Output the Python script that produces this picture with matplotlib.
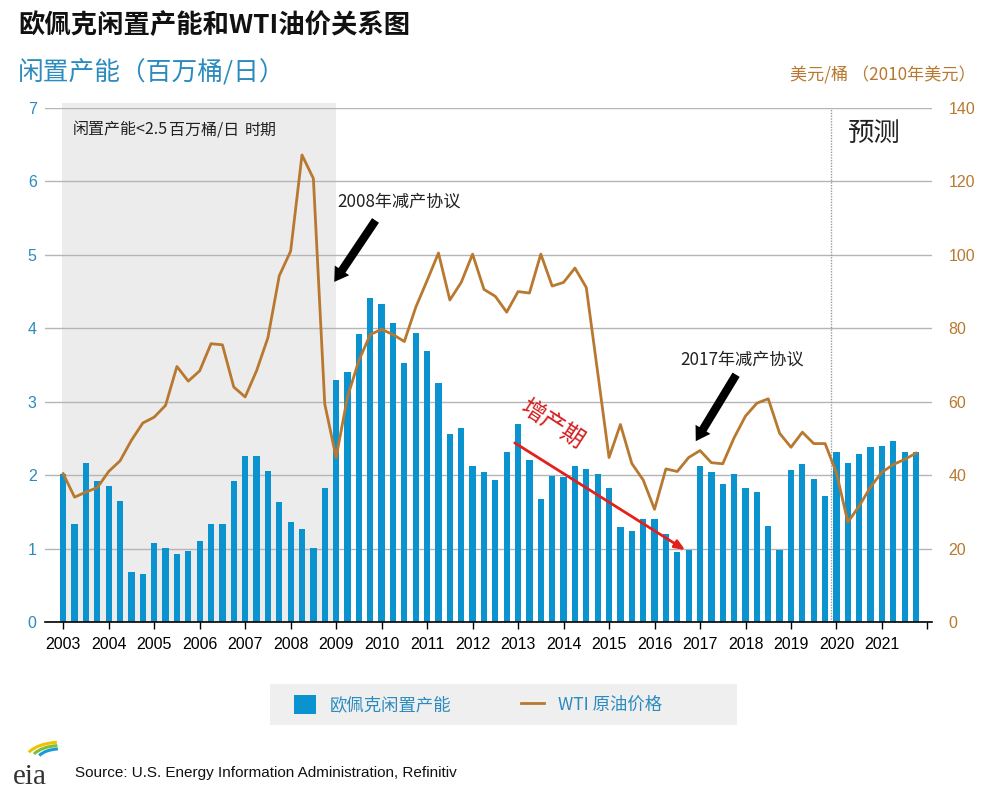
import matplotlib
matplotlib.use("Agg")
import matplotlib.pyplot as plt
from matplotlib.patches import Rectangle, Arc

plt.rcParams['font.family'] = ['Noto Sans CJK SC', 'DejaVu Sans']

# quarterly data, 2003 Q1 .. 2021 Q4
years = [str(y) for y in range(2003, 2022)]

spare = [2.02, 1.33, 2.17, 1.92, 1.85, 1.65, 0.68, 0.65, 1.07, 1.01, 0.93, 0.97,
         1.11, 1.33, 1.33, 1.92, 2.26, 2.26, 2.06, 1.63, 1.36, 1.26, 1.01, 1.83,
         3.30, 3.40, 3.92, 4.41, 4.33, 4.07, 3.53, 3.94, 3.69, 3.25, 2.56, 2.64,
         2.12, 2.04, 1.94, 2.31, 2.69, 2.21, 1.67, 1.99, 1.97, 2.13, 2.08, 2.02,
         1.83, 1.29, 1.24, 1.40, 1.40, 1.20, 0.95, 0.98, 2.13, 2.04, 1.88, 2.02,
         1.83, 1.77, 1.31, 0.98, 2.07, 2.15, 1.95, 1.72, 2.31, 2.17, 2.29, 2.38,
         2.40, 2.47, 2.31, 2.31]

wti = [40.4, 34.0, 35.4, 36.6, 41.0, 43.9, 49.5, 54.2, 55.8, 59.0, 69.6, 65.6,
       68.4, 75.8, 75.5, 64.0, 61.3, 68.4, 77.4, 94.3, 101.0, 127.2, 120.8, 59.4,
       44.8, 61.3, 71.2, 78.3, 79.7, 78.3, 76.4, 85.7, 93.0, 100.5, 87.7, 92.5,
       100.2, 90.6, 88.7, 84.4, 90.0, 89.6, 100.2, 91.5, 92.5, 96.4, 91.1, 68.0,
       44.8, 53.8, 43.2, 38.7, 30.7, 41.7, 41.0, 44.8, 46.7, 43.4, 43.1, 50.2,
       56.1, 59.6, 60.8, 51.4, 47.6, 51.7, 48.6, 48.6, 40.6, 27.2, 31.6, 36.8,
       40.8, 42.9, 44.3, 46.0]

bar_color = '#0b93d0'
line_color = '#b8782f'
blue_text = '#2a8bbf'

x = list(range(len(spare)))

fig = plt.figure(figsize=(10, 7.94), dpi=100)
ax = fig.add_axes([0.045, 0.2166, 0.887, 0.6474])

# low spare capacity period shading
ax.axvspan(-0.1, 24, ymin=0, ymax=1.01, color='#ececec', zorder=0, lw=0, clip_on=False)

bars = ax.bar(x, spare, width=0.55, color=bar_color, zorder=2, label='欧佩克闲置产能')

ax.set_xlim(-1.6, 76.4)
ax.set_ylim(0, 7)
ax.set_yticks(range(0, 8))
ax.grid(axis='y', color='#b5b5b5', lw=1, zorder=1)
ax.set_axisbelow(True)

ax.set_xticks(range(0, 77, 4))
ax.set_xticklabels(years + [''], fontsize=11.5, family='Liberation Sans')
ax.tick_params(axis='x', direction='out', length=5, width=1, color='black', pad=6)
ax.tick_params(axis='y', length=0, labelsize=11.5, labelcolor=blue_text, pad=6)
for lab in ax.get_yticklabels():
    lab.set_family('Liberation Sans')

for s in ['top', 'left', 'right']:
    ax.spines[s].set_visible(False)
ax.spines['bottom'].set_color('black')
ax.spines['bottom'].set_linewidth(1.2)

ax2 = ax.twinx()
line, = ax2.plot(x, wti, color=line_color, lw=2.0, zorder=3, label='WTI 原油价格')
ax2.set_ylim(0, 140)
ax2.set_yticks(range(0, 141, 20))
ax2.tick_params(axis='y', length=0, labelsize=11.5, labelcolor=line_color, pad=12)
for lab in ax2.get_yticklabels():
    lab.set_family('Liberation Sans')
for s in ['top', 'left', 'right', 'bottom']:
    ax2.spines[s].set_visible(False)

# forecast divider
ax.axvline(67.5, color='#9a9a9a', lw=1, ls=(0, (1, 1)), zorder=1)
ax.text(69.0, 6.65, '预测', fontsize=19, va='center', ha='left', color='#222222')

# annotations
t1 = ax.text(0.8, 6.7, '闲置产能<2.5', fontsize=11.5, va='center', ha='left', color='#222222')
t2 = ax.annotate('百万桶/日', xy=(1, 0.5), xycoords=t1, xytext=(1, 0), textcoords='offset points',
                 fontsize=11.5, va='center', ha='left', color='#222222', style='italic')
ax.annotate('时期', xy=(1, 0.5), xycoords=t2, xytext=(4, 0), textcoords='offset points',
            fontsize=11.5, va='center', ha='left', color='#222222')

arrow_style = 'simple,head_width=1.25,head_length=1.0,tail_width=0.6'
ax.text(24.1, 5.72, '2008年减产协议', fontsize=12.3, va='center', ha='left', color='#222222')
ax.annotate('', xy=(23.7, 4.6), xytext=(27.6, 5.5),
            arrowprops=dict(arrowstyle=arrow_style, color='black', lw=0))

ax.text(54.3, 3.57, '2017年减产协议', fontsize=12.3, va='center', ha='left', color='#222222')
ax.annotate('', xy=(55.5, 2.43), xytext=(59.3, 3.4),
            arrowprops=dict(arrowstyle=arrow_style, color='black', lw=0))

ax.annotate('', xy=(54.9, 0.96), xytext=(39.5, 2.46),
            arrowprops=dict(arrowstyle='-|>,head_width=0.25,head_length=0.6',
                            color='#e3201b', lw=2))
ax.text(42.9, 2.68, '增产期', fontsize=17, color='#d42020', rotation=-33,
        va='center', ha='center', rotation_mode='anchor')

# titles
fig.text(0.018, 0.968, '欧佩克闲置产能和WTI油价关系图', fontsize=19, fontweight='bold',
         va='center', ha='left', color='#111111')
fig.text(0.018, 0.908, '闲置产能（百万桶/日）', fontsize=18.5, va='center', ha='left', color=blue_text)
fig.text(0.976, 0.905, '美元/桶 （2010年美元）', fontsize=12.3, va='center', ha='right', color=line_color)

# legend
fig.patches.append(Rectangle((0.270, 0.087), 0.467, 0.051, transform=fig.transFigure,
                             facecolor='#efefef', edgecolor='none', zorder=0))
leg = fig.legend(handles=[bars, line], loc='center left', bbox_to_anchor=(0.278, 0.1125),
                 ncol=2, frameon=False, fontsize=12.5, columnspacing=4.0,
                 handlelength=1.3, handleheight=1.3, handletextpad=0.8)
for t in leg.get_texts():
    t.set_color(blue_text)

# source with eia mark
fig.text(0.075, 0.027, 'Source: U.S. Energy Information Administration, Refinitiv',
         fontsize=11, va='center', ha='left', color='#111111', family='Liberation Sans')
fig.text(0.013, 0.022, 'eia', fontsize=21, va='center', ha='left', color='#333333',
         family='Liberation Serif')
lax = fig.add_axes([0.015, 0.04, 0.05, 0.035])
lax.set_xlim(0, 1)
lax.set_ylim(0, 1)
lax.axis('off')
for r, c in [(0.9, '#f2c200'), (0.75, '#7bbf3a'), (0.6, '#1a9ad6')]:
    lax.add_patch(Arc((0.9, 0.0), r * 1.6, r * 1.6, theta1=95, theta2=150, color=c, lw=2.2))

fig.savefig('out.png', dpi=100)
